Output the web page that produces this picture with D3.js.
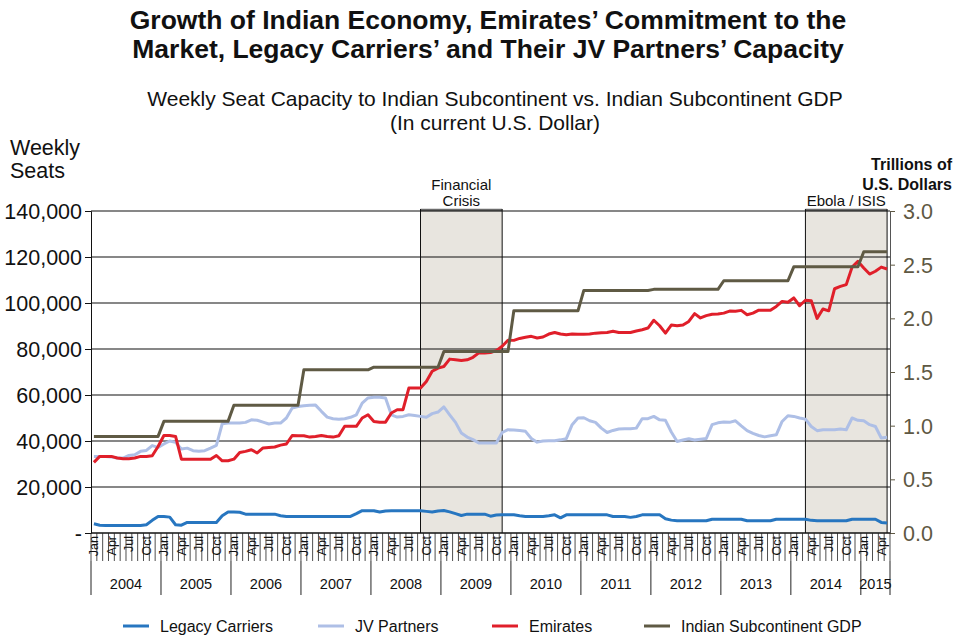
<!DOCTYPE html>
<html><head><meta charset="utf-8">
<script src="https://cdn.jsdelivr.net/npm/d3@7"></script>
<style>body{margin:0;background:#fff}svg{font-family:"Liberation Sans",Arial,Helvetica,sans-serif}</style>
</head><body><svg id="c" width="955" height="636"></svg>
<script>
const years = [2004,2005,2006,2007,2008,2009,2010,2011,2012,2013,2014,2015];
const monthNames = ["Jan","Feb","Mar","Apr","May","Jun","Jul","Aug","Sep","Oct","Nov","Dec"];
const lastYearMonths = 5; // Jan–May 2015
const gdpByYear = [0.90,1.04,1.19,1.52,1.545,1.69,2.07,2.26,2.27,2.35,2.48,2.62];
const legacy = [4000,3400,3300,3300,3300,3300,3300,3300,3300,3600,5500,7200,7200,6900,3600,3400,4600,4600,4600,4600,4600,4600,7500,9100,9100,9000,8200,8200,8200,8200,8200,8200,7500,7200,7200,7200,
7200,7200,7200,7200,7200,7200,7200,7200,7200,8400,9700,9700,9700,9100,9600,9700,9700,9700,9700,9700,9700,9400,9100,9600,9800,9200,8400,7600,8200,8200,8200,8200,7300,7800,7900,7900,
7900,7500,7200,7200,7200,7200,7500,7900,6600,7900,7900,7900,7900,7900,7900,7900,7900,7200,7200,7200,6800,7200,7900,7900,7900,7900,6200,5600,5300,5300,5300,5300,5300,5300,6000,6000,
6000,6000,6000,6000,5300,5300,5300,5300,5300,6000,6000,6000,6000,6000,6000,5500,5300,5300,5300,5300,5300,5300,6000,6000,6000,6000,6000,4600,4300];
const jv = [33300,33300,33300,33000,32600,32600,33700,34000,35500,35900,38000,37200,38700,40000,39400,36500,36900,35800,35500,35800,36900,38100,47500,47800,47800,47800,48100,49200,49000,48200,47400,47800,47800,50000,54300,55000,
55300,55500,55600,52900,50400,49700,49500,49700,50300,51400,56500,58700,59000,59000,58700,51400,50400,50700,51400,51100,50700,50300,51900,52600,54800,51400,48100,43500,41700,40600,39100,39100,39100,39100,43700,44900,
44800,44600,44200,41100,39500,40000,40100,40100,40500,41000,47100,50000,50100,48800,48100,45600,43700,44600,45200,45300,45300,45600,49700,49700,50700,49200,49000,43900,39800,40400,41000,40400,40800,41100,47100,47900,
48300,48100,48800,46600,44500,43300,42400,41800,42300,42700,48500,51000,50700,50000,49500,46300,44500,44900,44900,44900,45200,44900,50000,49000,48800,47100,46300,41300,41600];
const emirates = [30700,33300,33300,33300,32600,32300,32300,32600,33300,33300,33600,37600,42400,42400,42000,32100,32100,32100,32100,32100,32100,33700,31400,31400,32100,35000,35500,36200,34800,37000,37200,37400,38200,38700,42400,42300,
42300,41700,42000,42400,42000,41700,42300,46400,46400,46400,50000,51400,48500,48200,48200,52200,53600,53600,63000,63000,63000,65900,70300,71700,72400,75600,75300,75000,75300,76400,78300,78300,78500,79300,81200,83800,
83750,84600,85100,85500,84800,85200,86500,87200,86500,86200,86500,86400,86400,86500,86900,87100,87200,87700,87200,87200,87200,87800,88400,89100,92500,90100,86900,90400,90100,90400,92000,95400,93500,94500,95100,95200,
95600,96500,96400,96800,94900,95600,96900,96900,96800,98500,100700,100300,102200,98800,101200,101000,93300,97400,96600,106200,107200,108000,115600,118100,115200,112600,113800,115600,114800];
const leftTicks = [0,20000,40000,60000,80000,100000,120000,140000];
const rightTicks = [0,0.5,1.0,1.5,2.0,2.5,3.0];
const events = [{label:["Financial","Crisis"], from:"Sep 2008", to:"Nov 2009"},{label:["Ebola / ISIS"], from:"Mar 2014", to:"May 2015"}];
const seriesInfo = [{name:"Legacy Carriers",color:"#2776c0"},{name:"JV Partners",color:"#aebfe6"},{name:"Emirates",color:"#e01f2a"},{name:"Indian Subcontinent GDP",color:"#5f5a44"}];

// categories
const months = [];
years.forEach((y,yi)=>{const n = yi===years.length-1?lastYearMonths:12; for(let m=0;m<n;m++) months.push({key:monthNames[m]+" "+y, m:monthNames[m], year:y, yi});});
const gdp = months.map(d=>gdpByYear[d.yi]);

const svg = d3.select("#c");
const L=91,R=890,T=211,B=533;
const x = d3.scaleBand().domain(months.map(d=>d.key)).range([L,R]).paddingInner(0).paddingOuter(0);
const bw = x.bandwidth();
const cx = k => x(k)+bw/2;
const yL = d3.scaleLinear().domain([0,140000]).range([B,T]);
const yR = d3.scaleLinear().domain([0,3]).range([B,T]);

// shading
events.forEach(e=>{
  const x0=cx(e.from), x1=cx(e.to);
  svg.append("rect").attr("x",x0).attr("y",T-2).attr("width",x1-x0).attr("height",B-T+2).attr("fill","#e8e5df");
  svg.append("line").attr("x1",x0).attr("x2",x1).attr("y1",T-1).attr("y2",T-1).attr("stroke","#6b6b6b").attr("stroke-width",2.5);
  [x0,x1].forEach(xx=>svg.append("line").attr("x1",xx).attr("x2",xx).attr("y1",T-2).attr("y2",B).attr("stroke","#111").attr("stroke-width",1));
  const t = svg.append("text").attr("text-anchor","middle").attr("font-size",15).attr("fill","#111");
  e.label.forEach((s,i)=>t.append("tspan").attr("x",(x0+x1)/2).attr("y",T-5-(e.label.length-1-i)*16).text(s));
});

// grid
svg.append("g").selectAll("line").data(leftTicks.filter(d=>d>0)).join("line")
  .attr("x1",L).attr("x2",R).attr("y1",d=>yL(d)).attr("y2",d=>yL(d)).attr("stroke","#111").attr("stroke-width",1.2);

// left axis
const la = svg.append("g").attr("transform",`translate(${L},0)`)
  .call(d3.axisLeft(yL).tickValues(leftTicks).tickSize(6).tickPadding(3).tickFormat(d=>d===0?"-":d3.format(",")(d)));
la.select(".domain").attr("stroke","#111");
la.selectAll("text").attr("font-size",21.5).attr("fill","#111").attr("dy","0.35em");
la.selectAll("line").attr("stroke","#111");

// right axis
const ra = svg.append("g").attr("transform",`translate(${R},0)`)
  .call(d3.axisRight(yR).tickValues(rightTicks).tickSize(5).tickPadding(8).tickFormat(d3.format(".1f")));
ra.select(".domain").attr("stroke","#555");
ra.selectAll("text").attr("font-size",21.5).attr("fill","#5e5843").attr("dy","0.35em");
ra.selectAll("line").attr("stroke","#5e5843");

// x axis
svg.append("line").attr("x1",L).attr("x2",R).attr("y1",B).attr("y2",B).attr("stroke","#111").attr("stroke-width",1.5);
const xa = svg.append("g");
const bounds = months.map(d=>x(d.key)).concat([R]);
xa.selectAll("line.mt").data(bounds).join("line").attr("class","mt")
  .attr("x1",d=>d).attr("x2",d=>d).attr("y1",B).attr("y2",561).attr("stroke","#222").attr("stroke-width",0.8);
xa.selectAll("text.ml").data(months.filter(d=>["Jan","Apr","Jul","Oct"].includes(d.m))).join("text").attr("class","ml")
  .attr("transform",d=>`translate(${cx(d.key)+4.5},${B+3}) rotate(-90)`).attr("text-anchor","end")
  .attr("font-size",12.5).attr("fill","#111").text(d=>d.m);
const yearB = years.map((y,i)=>({y, x0:x(months.find(m=>m.year===y).key), x1: i<years.length-1? x(months.find(m=>m.year===years[i+1]).key): R}));
xa.selectAll("line.yt").data(yearB.map(d=>d.x0).concat([R])).join("line").attr("class","yt")
  .attr("x1",d=>d).attr("x2",d=>d).attr("y1",561).attr("y2",595).attr("stroke","#222").attr("stroke-width",1);
xa.selectAll("text.yl").data(yearB).join("text").attr("class","yl")
  .attr("x",d=>(d.x0+d.x1)/2).attr("y",589).attr("text-anchor","middle").attr("font-size",14.5).attr("fill","#111").text(d=>d.y);

// lines
const mk = (arr,ys) => d3.line().x((d,i)=>cx(months[i].key)).y(d=>ys(d))(arr);
const sw = 3;
svg.append("path").attr("d",mk(legacy,yL)).attr("fill","none").attr("stroke",seriesInfo[0].color).attr("stroke-width",sw).attr("stroke-linejoin","round");
svg.append("path").attr("d",mk(jv,yL)).attr("fill","none").attr("stroke",seriesInfo[1].color).attr("stroke-width",sw).attr("stroke-linejoin","round");
svg.append("path").attr("d",mk(emirates,yL)).attr("fill","none").attr("stroke",seriesInfo[2].color).attr("stroke-width",sw).attr("stroke-linejoin","round");
svg.append("path").attr("d",mk(gdp,yR)).attr("fill","none").attr("stroke",seriesInfo[3].color).attr("stroke-width",sw).attr("stroke-linejoin","round");

// titles
const tt = svg.append("text").attr("text-anchor","middle").attr("font-weight","bold").attr("font-size",26.5).attr("fill","#111");
tt.append("tspan").attr("x",488).attr("y",29).text("Growth of Indian Economy, Emirates\u2019 Commitment to the");
tt.append("tspan").attr("x",488).attr("y",58).text("Market, Legacy Carriers\u2019 and Their JV Partners\u2019 Capacity");
const st = svg.append("text").attr("text-anchor","middle").attr("font-size",21).attr("fill","#111");
st.append("tspan").attr("x",495).attr("y",106).text("Weekly Seat Capacity to Indian Subcontinent vs. Indian Subcontinent GDP");
st.append("tspan").attr("x",495).attr("y",130).text("(In current U.S. Dollar)");
const wl = svg.append("text").attr("font-size",21.5).attr("fill","#111");
wl.append("tspan").attr("x",10).attr("y",155).text("Weekly");
wl.append("tspan").attr("x",10).attr("y",178).text("Seats");
const rl = svg.append("text").attr("font-size",16).attr("font-weight","bold").attr("text-anchor","end").attr("fill","#111");
rl.append("tspan").attr("x",952).attr("y",170).text("Trillions of");
rl.append("tspan").attr("x",952).attr("y",190).text("U.S. Dollars");

// legend
const legX = [123,318,492,644];
const lg = svg.append("g").selectAll("g").data(seriesInfo).join("g").attr("transform",(d,i)=>`translate(${legX[i]},626)`);
lg.append("line").attr("x1",0).attr("x2",26).attr("stroke",d=>d.color).attr("stroke-width",3);
lg.append("text").attr("x",37).attr("dy","0.35em").attr("font-size",16).attr("fill","#111").text(d=>d.name);
</script></body></html>
